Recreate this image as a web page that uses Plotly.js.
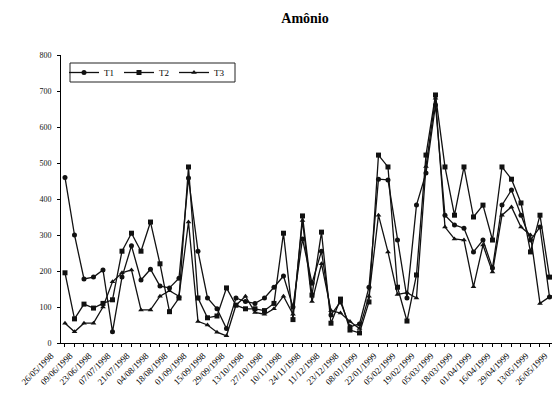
<!DOCTYPE html>
<html>
<head>
<meta charset="utf-8">
<script src="https://cdn.plot.ly/plotly-3.0.1.min.js"></script>
<style>
html,body{margin:0;padding:0;overflow:hidden;background:#fff;}
#chart{width:572px;height:393px;}
</style>
</head>
<body>
<div id="chart"></div>
<script>
// Sampling dates that carry a label (every second sample)
const labelledDates = ["26/05/1998","09/06/1998","23/06/1998","07/07/1998","21/07/1998","04/08/1998","18/08/1998","01/09/1998","15/09/1998","29/09/1998","13/10/1998","27/10/1998","10/11/1998","24/11/1998","11/12/1998","23/12/1998","08/01/1999","22/01/1999","05/02/1999","19/02/1999","05/03/1999","18/03/1999","01/04/1999","16/04/1999","29/04/1999","13/05/1999","26/05/1999"];
// Unlabelled samples in between
const betweenDates = ["02/06/1998","16/06/1998","30/06/1998","14/07/1998","28/07/1998","11/08/1998","25/08/1998","08/09/1998","22/09/1998","06/10/1998","20/10/1998","03/11/1998","17/11/1998","03/12/1998","17/12/1998","30/12/1998","15/01/1999","29/01/1999","12/02/1999","26/02/1999","12/03/1999","25/03/1999","08/04/1999","22/04/1999","06/05/1999","19/05/1999"];

const T1 = [460,300,178,183,203,31,183,270,175,205,158,153,180,458,255,125,95,40,125,115,110,125,155,186,100,289,166,255,78,114,45,53,155,455,453,286,125,383,472,661,355,328,319,253,286,208,383,425,355,286,322,128,140];
const T2 = [195,67,108,97,110,120,255,305,255,336,220,87,125,489,125,70,75,153,105,95,95,90,110,305,65,353,133,308,55,122,36,28,114,522,489,155,61,189,522,689,489,355,489,350,383,286,489,455,389,253,355,183,170];
const T3 = [55,31,55,55,100,170,195,203,92,92,130,145,130,336,60,50,30,20,105,130,85,80,95,130,80,340,115,220,90,83,60,40,130,355,253,135,140,125,490,680,322,289,286,156,272,197,355,378,322,300,110,128,135];

const yTicks = [0,100,200,300,400,500,600,700,800];
const seriesNames = ["T1","T2","T3"];

const dates = [];
labelledDates.forEach((d,k)=>{ dates.push(d); if(k<betweenDates.length) dates.push(betweenDates[k]); });
const tickText = dates.map((d,i)=> i%2===0 ? d : "");

const serif = "Liberation Serif, Times New Roman, serif";
const symbols = ["circle","square","triangle-up"];
const traces = [T1,T2,T3].map((vals,k)=>({
  x: dates, y: vals, name: seriesNames[k], type: "scatter", mode: "lines+markers",
  line: {color:"#111", width:1.3},
  marker: {symbol: symbols[k], size: 5, color:"#111"}
}));

// plot area in pixels: x 61..568, y 55..343
const px = v => (v-61)/507, py = v => (343-v)/288;

const layout = {
  width: 572, height: 393,
  margin: {l:61, r:4, t:55, b:50},
  paper_bgcolor:"#fff", plot_bgcolor:"#fff",
  title: {text:"<b>Amônio</b>", font:{family:serif, size:14, color:"#000"},
          x: 305/572, xref:"container", xanchor:"center", y: 1-18/393, yref:"container", yanchor:"middle"},
  showlegend: true,
  legend: {orientation:"h", x:px(64), y:py(72.5), xanchor:"left", yanchor:"middle",
           borderwidth:0, bgcolor:"rgba(0,0,0,0)",
           font:{family:serif, size:9, color:"#000"}, itemwidth:30},
  shapes: [{type:"rect", xref:"paper", yref:"paper", x0:px(70), x1:px(235), y0:py(82), y1:py(63),
            line:{color:"#222", width:1}, fillcolor:"rgba(0,0,0,0)", layer:"above"}],
  xaxis: {type:"category", range:[-0.42, 52.95], showline:true, linecolor:"#000", linewidth:1,
          ticks:"outside", ticklen:3, tickcolor:"#000", tickvals:dates, ticktext:tickText,
          tickangle:-45, ticklabelshift:-14, tickfont:{family:serif, size:9, color:"#000"},
          showgrid:false, zeroline:false, automargin:false, fixedrange:true},
  yaxis: {range:[0,800], tickvals:yTicks, showline:true, linecolor:"#000", linewidth:1,
          ticks:"outside", ticklen:3, tickcolor:"#000", ticklabelstandoff:4,
          tickfont:{family:serif, size:8, color:"#111"},
          showgrid:false, zeroline:false, automargin:false, fixedrange:true}
};

Plotly.newPlot("chart", traces, layout, {displayModeBar:false, staticPlot:true});
</script>
</body>
</html>
